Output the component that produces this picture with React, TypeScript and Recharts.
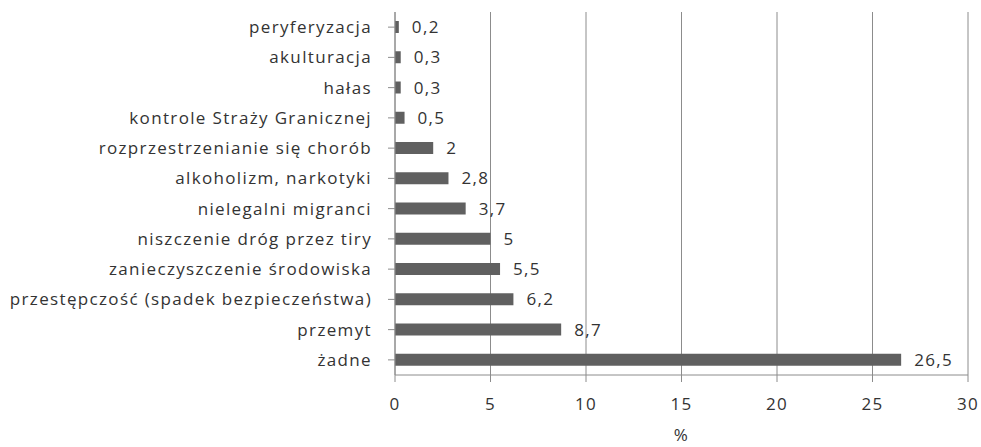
import React from 'react';
import { BarChart, Bar, XAxis, YAxis, CartesianGrid, LabelList } from 'recharts';

const categories = [
  'peryferyzacja',
  'akulturacja',
  'hałas',
  'kontrole Straży Granicznej',
  'rozprzestrzenianie się chorób',
  'alkoholizm, narkotyki',
  'nielegalni migranci',
  'niszczenie dróg przez tiry',
  'zanieczyszczenie środowiska',
  'przestępczość (spadek bezpieczeństwa)',
  'przemyt',
  'żadne',
];
const values = [0.2, 0.3, 0.3, 0.5, 2, 2.8, 3.7, 5, 5.5, 6.2, 8.7, 26.5];
const xTicks = [0, 5, 10, 15, 20, 25, 30];

const data = categories.map((name, i) => ({ name, value: values[i] }));

const FONT = '"Open Sans", sans-serif';
const TEXT = '#333333';
const LINE = '#8c8c8c';
const textStyle = { fill: TEXT, fontSize: 17, fontFamily: FONT, letterSpacing: 1.35 };

export default function App() {
  return (
    <div style={{ position: 'absolute', left: 0, top: 0, width: 981, height: 447, background: '#fff' }}>
      <BarChart
        width={981}
        height={447}
        data={data}
        layout="vertical"
        margin={{ top: 12, right: 13, bottom: 0, left: 0 }}
        barCategoryGap={0}
      >
        <CartesianGrid horizontal={false} vertical stroke={LINE} strokeWidth={1} />
        <XAxis
          type="number"
          domain={[0, 30]}
          ticks={xTicks}
          interval={0}
          height={72}
          stroke={LINE}
          tickSize={7}
          tickMargin={16}
          tick={textStyle}
          label={{ value: '%', position: 'insideBottom', offset: 6, ...textStyle }}
        />
        <YAxis
          type="category"
          dataKey="name"
          width={395}
          interval={0}
          stroke={LINE}
          tickSize={7}
          tickMargin={16}
          tick={textStyle}
        />
        <Bar dataKey="value" fill="#606060" barSize={12} isAnimationActive={false}>
          <LabelList
            dataKey="value"
            position="right"
            offset={13}
            formatter={(v: number) => String(v).replace('.', ',')}
            style={textStyle}
          />
        </Bar>
      </BarChart>
    </div>
  );
}
